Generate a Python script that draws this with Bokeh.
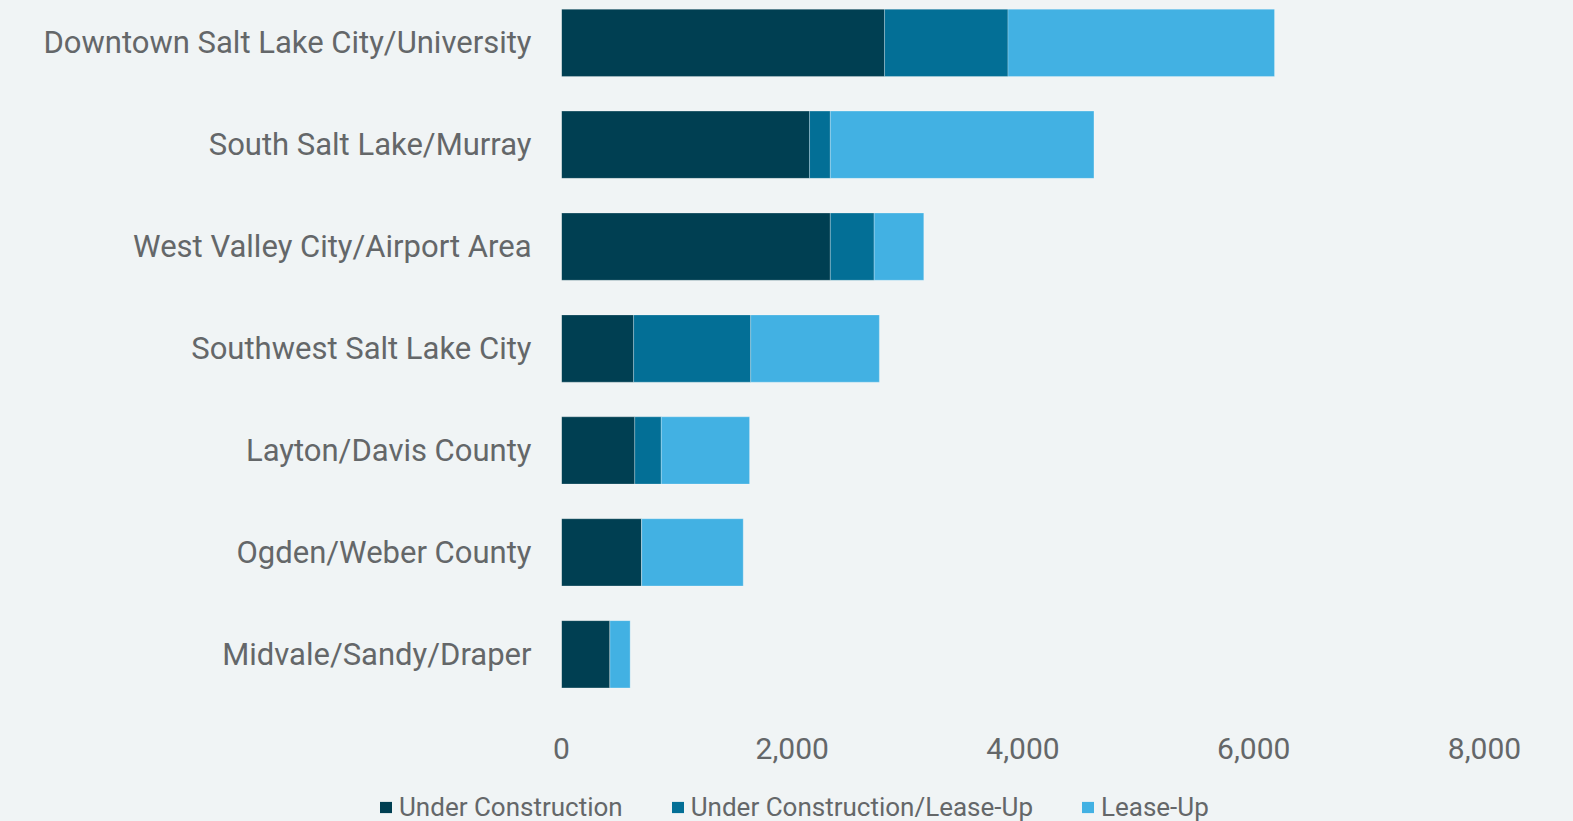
from bokeh.plotting import figure
from bokeh.layouts import column
from bokeh.models import ColumnDataSource, Range1d, FixedTicker, NumeralTickFormatter
from bokeh.embed import file_html
from bokeh.resources import INLINE

categories = [
    "Downtown Salt Lake City/University",
    "South Salt Lake/Murray",
    "West Valley City/Airport Area",
    "Southwest Salt Lake City",
    "Layton/Davis County",
    "Ogden/Weber County",
    "Midvale/Sandy/Draper",
]
under_construction = [2800, 2150, 2330, 625, 635, 695, 420]
uc_lease_up = [1070, 180, 380, 1015, 230, 0, 0]
lease_up = [2310, 2285, 430, 1115, 765, 880, 175]
series_names = ["Under Construction", "Under Construction/Lease-Up", "Lease-Up"]
x_ticks = [0, 2000, 4000, 6000, 8000]

colors = ["#003f52", "#036f96", "#42b1e3"]
bg = "#f0f4f5"
text_color = "#646769"
FONT = "Roboto"

n = len(categories)
ypos = [n - 1 - i for i in range(n)]

source = ColumnDataSource(dict(
    y=ypos,
    uc=under_construction,
    uclu=uc_lease_up,
    lu=lease_up,
))

p = figure(
    frame_width=923, frame_height=707,
    min_border_left=561, min_border_right=89, min_border_top=8, min_border_bottom=58,
    x_range=Range1d(0, 8000), y_range=Range1d(-0.601, n - 1 + 0.337),
    output_backend="svg", toolbar_location=None,
    background_fill_color=bg, border_fill_color=bg, outline_line_color=None,
)

p.hbar_stack(["uc", "uclu", "lu"], y="y", height=0.66, color=colors, source=source,
             line_color="white", line_alpha=0.25, line_width=1)

p.xgrid.visible = False
p.ygrid.visible = False

xa = p.xaxis[0]
xa.ticker = FixedTicker(ticks=x_ticks)
xa.formatter = NumeralTickFormatter(format="0,0")
xa.axis_line_color = None
xa.major_tick_line_color = None
xa.minor_tick_line_color = None
xa.major_tick_out = 0
xa.major_tick_in = 0
xa.major_label_standoff = 22
xa.major_label_text_font = FONT
xa.major_label_text_font_size = "30px"
xa.major_label_text_color = text_color

ya = p.yaxis[0]
ya.ticker = FixedTicker(ticks=ypos)
ya.major_label_overrides = {ypos[i]: categories[i] for i in range(n)}
ya.axis_line_color = None
ya.major_tick_line_color = None
ya.minor_tick_line_color = None
ya.major_tick_out = 0
ya.major_tick_in = 0
ya.major_label_standoff = 30
ya.major_label_text_font = FONT
ya.major_label_text_font_size = "31px"
ya.major_label_text_color = text_color

# legend strip: a legend is only drawn inside a frame, so it gets its own strip
# whose renderers show the same stacked data (kept out of view; only legend swatches show)
p2 = figure(
    frame_width=1573, frame_height=48,
    min_border_left=0, min_border_right=0, min_border_top=0, min_border_bottom=0,
    x_range=Range1d(-100, -99), y_range=Range1d(-100, -99),
    x_axis_location=None, y_axis_location=None,
    output_backend="svg", toolbar_location=None,
    background_fill_color=bg, border_fill_color=bg, outline_line_color=None,
)
p2.xgrid.visible = False
p2.ygrid.visible = False
p2.hbar_stack(["uc", "uclu", "lu"], y="y", height=0.66, fill_color=colors, line_color=None,
              source=source, legend_label=series_names)

lg = p2.legend[0]
lg.orientation = "horizontal"
lg.location = (378, -1)
lg.padding = 0
lg.margin = 0
lg.spacing = 47
lg.glyph_width = 15
lg.glyph_height = 14
lg.label_standoff = 6
lg.label_text_font = FONT
lg.label_text_font_size = "26px"
lg.label_text_color = text_color
lg.border_line_color = None
lg.background_fill_alpha = 0
lg.item_background_fill_alpha = 0

layout = column(p, p2, spacing=0, styles={"background-color": bg})
open("out.html", "w").write(file_html(layout, INLINE))
